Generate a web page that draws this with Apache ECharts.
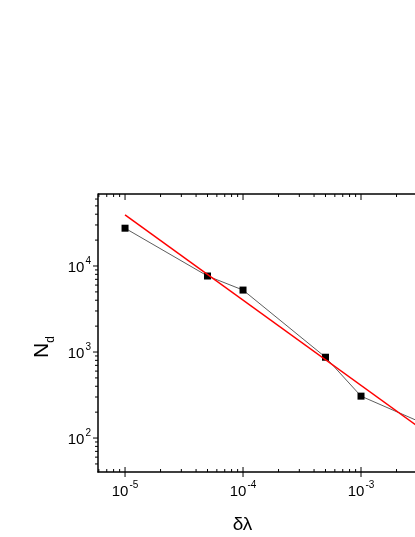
<!DOCTYPE html>
<html><head><meta charset="utf-8">
<script src="https://cdn.jsdelivr.net/npm/echarts@6/dist/echarts.min.js"></script>
<style>html,body{margin:0;padding:0;background:#fff;}#c{width:415px;height:537px;}</style>
</head><body><div id="c"></div>
<script>
// data
var dl = [1e-5, 5e-5, 1e-4, 5e-4, 1e-3, 5e-3];
var Nd = [27500, 7650, 5250, 870, 307, 117];
var fitX = [1e-5, 5e-3];
var fitY = [39200, 83];
// axis ticks
var xMajor = [1e-5, 1e-4, 1e-3, 1e-2];
var yMajor = [1e2, 1e3, 1e4];
var xMin = 5.9e-6, xMax = 1e-2, yMin = 40.3, yMax = 68700;

function minors(lo, hi) {
  var out = [];
  for (var e = -8; e <= 6; e++) {
    for (var m = 2; m <= 9; m++) {
      var v = m * Math.pow(10, e);
      if (v > lo && v < hi) out.push(v);
    }
  }
  return out;
}
var xMinor = minors(xMin, xMax);
var yMinor = minors(yMin, yMax);

var font = '"Liberation Sans", Arial, sans-serif';
function powLabel(v) {
  var l = Math.log10(v);
  var n = Math.round(l);
  if (Math.abs(l - n) > 1e-6) return '';
  return '{b|10}{s|' + n + '}';
}
var labelRich = {
  b: {fontSize: 15, fontFamily: font, color: '#000', verticalAlign: 'bottom', lineHeight: 19},
  s: {fontSize: 10, fontFamily: font, color: '#000', verticalAlign: 'top', lineHeight: 19, padding: [0, 0, 0, 1]}
};

var xTickData = xMajor.filter(function (v) { return v >= xMin && v <= xMax; }).map(function (v) { return [v, 1]; })
  .concat(xMinor.map(function (v) { return [v, 0]; }));
var yTickData = yMajor.map(function (v) { return [v, 1]; }).concat(yMinor.map(function (v) { return [v, 0]; }));

function xTicks(params, api) {
  var cs = params.coordSys;
  var px = api.coord([api.value(0), yMin])[0];
  var major = api.value(1) === 1;
  var bottom = cs.y + cs.height, top = cs.y;
  var st = {stroke: '#000', lineWidth: 1};
  var ch = [];
  if (major) {
    ch.push({type: 'line', shape: {x1: px, y1: bottom - 5, x2: px, y2: bottom + 5}, style: st});
    ch.push({type: 'line', shape: {x1: px, y1: top, x2: px, y2: top + 6}, style: st});
  } else {
    ch.push({type: 'line', shape: {x1: px, y1: bottom - 3, x2: px, y2: bottom}, style: st});
    ch.push({type: 'line', shape: {x1: px, y1: top, x2: px, y2: top + 3}, style: st});
  }
  return {type: 'group', children: ch};
}
function yTicks(params, api) {
  var cs = params.coordSys;
  var py = api.coord([xMin, api.value(0)])[1];
  var major = api.value(1) === 1;
  var left = cs.x;
  var st = {stroke: '#000', lineWidth: 1};
  var len = major ? 5 : 3;
  return {type: 'line', shape: {x1: left - len, y1: py, x2: left, y2: py}, style: st};
}

var chart = echarts.init(document.getElementById('c'), null, {renderer: 'canvas'});
chart.setOption({
  backgroundColor: '#fff',
  animation: false,
  grid: {left: 98, top: 194, width: 381, height: 278, containLabel: false, outerBoundsMode: 'none'},
  xAxis: {
    type: 'log', logBase: 10, min: xMin, max: xMax,
    axisLine: {show: true, lineStyle: {color: '#000', width: 1.5}},
    axisTick: {show: false}, splitLine: {show: false}, minorTick: {show: false},
    axisLabel: {margin: 8, formatter: powLabel, rich: labelRich, showMinLabel: false, showMaxLabel: true},
    name: '{t|δλ}', nameLocation: 'middle', nameGap: 43,
    nameTextStyle: {rich: {t: {fontSize: 19, fontFamily: font, color: '#000'}}, padding: [0, 92, 0, 0]}
  },
  yAxis: {
    type: 'log', logBase: 10, min: yMin, max: yMax,
    axisLine: {show: true, lineStyle: {color: '#000', width: 1.5}},
    axisTick: {show: false}, splitLine: {show: false}, minorTick: {show: false},
    axisLabel: {margin: 7, formatter: powLabel, rich: labelRich, showMinLabel: false, showMaxLabel: false},
    name: '{n|N}{d|d}', nameLocation: 'middle', nameGap: 41, nameRotate: 90,
    nameTextStyle: {
      rich: {
        n: {fontSize: 21, fontFamily: font, color: '#000', verticalAlign: 'top', lineHeight: 25},
        d: {fontSize: 12, fontFamily: font, color: '#000', verticalAlign: 'bottom', lineHeight: 25}
      },
      padding: [0, 28, 0, 0]
    }
  },
  graphic: [
    {type: 'line', shape: {x1: 98, y1: 194, x2: 415, y2: 194}, style: {stroke: '#000', lineWidth: 1.5}, z: 10}
  ],
  series: [
    {
      type: 'line', name: 'data', data: dl.map(function (x, i) { return [x, Nd[i]]; }),
      symbol: 'rect', symbolSize: 7, showSymbol: true,
      lineStyle: {color: '#333', width: 0.8},
      itemStyle: {color: '#000', borderColor: '#000', borderWidth: 0},
      z: 3
    },
    {
      type: 'line', name: 'fit', data: fitX.map(function (x, i) { return [x, fitY[i]]; }),
      symbol: 'none', lineStyle: {color: '#ff0000', width: 1.5}, z: 4
    },
    {type: 'custom', renderItem: xTicks, data: xTickData, clip: false, silent: true, z: 5},
    {type: 'custom', renderItem: yTicks, data: yTickData, clip: false, silent: true, z: 5}
  ]
});
</script>
</body></html>
